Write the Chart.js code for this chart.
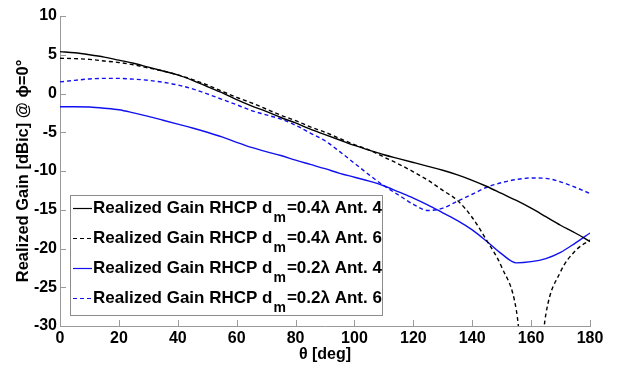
<!DOCTYPE html>
<html>
<head>
<meta charset="utf-8">
<script src="https://cdn.jsdelivr.net/npm/chart.js@4/dist/chart.umd.min.js"></script>
<style>
  body { margin: 0; background: #fff; }
  #wrap { width: 623px; height: 365px; }
</style>
</head>
<body>
<div id="wrap"><canvas id="gainChart"></canvas></div>
<script>
// theta in degrees, 5 degree steps
const theta = [0, 5, 10, 15, 20, 25, 30, 35, 40, 45, 50, 55, 60, 65, 70, 75, 80, 85, 90,
               95, 100, 105, 110, 115, 120, 125, 130, 135, 140, 145, 150, 155, 160, 165, 170, 175, 180];

// realized gain RHCP, dBic
const gainA4d04 = [5.4, 5.25, 5.0, 4.7, 4.3, 3.9, 3.4, 2.9, 2.4, 1.7, 0.9, 0.1, -0.8, -1.6, -2.3, -3.1, -3.8, -4.6, -5.3,
                   -6.0, -6.7, -7.3, -7.9, -8.4, -8.9, -9.4, -9.9, -10.5, -11.2, -12.0, -12.9, -13.8, -14.8, -15.9, -17.0, -18.0, -19.1];
const gainA6d04 = [4.55, 4.5, 4.4, 4.2, 4.0, 3.7, 3.3, 2.9, 2.4, 1.8, 1.1, 0.3, -0.5, -1.2, -2.0, -2.8, -3.5, -4.3, -5.0,
                   -5.8, -6.6, -7.3, -8.2, -9.1, -10.1, -11.2, -12.5, -13.8, -16.0, -19.0, -22.4, -28.0, -45, -28.5, -23.0, -20.3, -18.9];
const gainA4d02 = [-1.7, -1.7, -1.75, -1.9, -2.1, -2.5, -2.95, -3.45, -3.95, -4.45, -5.0, -5.6, -6.3, -6.95, -7.5, -8.0, -8.6, -9.15, -9.7,
                   -10.3, -10.8, -11.3, -11.9, -12.7, -13.5, -14.4, -15.4, -16.4, -17.6, -19.1, -20.7, -21.85, -21.7, -21.3, -20.5, -19.3, -18.0];
const gainA6d02 = [1.5, 1.7, 1.88, 1.95, 1.95, 1.85, 1.7, 1.45, 1.1, 0.6, -0.05, -0.75, -1.45, -2.2, -2.75, -3.3, -4.1, -5.1, -6.1,
                   -7.5, -9.0, -10.5, -11.9, -13.1, -14.3, -15.1, -14.8, -13.9, -13.0, -12.1, -11.5, -11.1, -10.9, -10.95, -11.4, -12.1, -12.9];

// legend text pieces: main, subscript, rest
const legendMain = 'Realized Gain RHCP d';
const legendSub = 'm';
const legendRest = ['=0.4\u03bb Ant. 4', '=0.4\u03bb Ant. 6', '=0.2\u03bb Ant. 4', '=0.2\u03bb Ant. 6'];

const yTitle = 'Realized Gain [dBic] @ \u03d5=0\u00b0';
const xTitle = '\u03b8 [deg]';

const FONT = '"Liberation Sans", Arial, sans-serif';

function toPoints(values) {
    return theta.map((t, i) => ({ x: t, y: values[i] }));
}

// small ticks pointing into the plot, like the original
const innerTicks = {
    id: 'innerTicks',
    beforeDatasetsDraw(chart) {
        const ctx = chart.ctx;
        const xs = chart.scales.x;
        const ys = chart.scales.y;
        ctx.save();
        ctx.strokeStyle = '#9a9a9a';
        ctx.lineWidth = 1;
        ctx.beginPath();
        xs.ticks.forEach(t => {
            const px = Math.round(xs.getPixelForValue(t.value)) + 0.5;
            ctx.moveTo(px, ys.bottom);
            ctx.lineTo(px, ys.bottom - 6);
        });
        ys.ticks.forEach(t => {
            const py = Math.round(ys.getPixelForValue(t.value)) + 0.5;
            ctx.moveTo(xs.left, py);
            ctx.lineTo(xs.left + 6, py);
        });
        ctx.stroke();
        ctx.restore();
    }
};

// legend with subscript, not possible with the built-in one
const subLegend = {
    id: 'subLegend',
    afterDraw(chart) {
        const ctx = chart.ctx;
        const boxX = 70.5, boxY = 195.5, boxW = 312, boxH = 120;
        ctx.save();
        ctx.fillStyle = '#fff';
        ctx.fillRect(boxX, boxY, boxW, boxH);
        ctx.strokeStyle = '#8c8c8c';
        ctx.lineWidth = 1;
        ctx.strokeRect(boxX, boxY, boxW, boxH);

        chart.data.datasets.forEach((ds, i) => {
            const y = 208 + i * 30;
            ctx.strokeStyle = ds.borderColor;
            ctx.lineWidth = 1.2;
            ctx.setLineDash(ds.borderDash || []);
            ctx.beginPath();
            ctx.moveTo(73, y + 0.5);
            ctx.lineTo(92, y + 0.5);
            ctx.stroke();
            ctx.setLineDash([]);

            ctx.fillStyle = '#000';
            ctx.textBaseline = 'middle';
            ctx.textAlign = 'left';
            ctx.font = 'bold 17px ' + FONT;
            let x = 93;
            ctx.fillText(legendMain, x, y);
            x += ctx.measureText(legendMain).width + 1;
            ctx.font = 'bold 14px ' + FONT;
            ctx.fillText(legendSub, x, y + 10);
            x += ctx.measureText(legendSub).width + 1;
            ctx.font = 'bold 17px ' + FONT;
            ctx.fillText(legendRest[i], x, y);
        });
        ctx.restore();
    }
};

const ctx = document.getElementById('gainChart').getContext('2d');
const gainChart = new Chart(ctx, {
    type: 'line',
    data: {
        datasets: [
            { label: legendMain + legendSub + legendRest[0], data: toPoints(gainA4d04), borderColor: '#000000', borderWidth: 1.4 },
            { label: legendMain + legendSub + legendRest[1], data: toPoints(gainA6d04), borderColor: '#000000', borderWidth: 1.4, borderDash: [4, 3] },
            { label: legendMain + legendSub + legendRest[2], data: toPoints(gainA4d02), borderColor: '#1010f0', borderWidth: 1.4 },
            { label: legendMain + legendSub + legendRest[3], data: toPoints(gainA6d02), borderColor: '#1010f0', borderWidth: 1.4, borderDash: [4, 3] }
        ]
    },
    options: {
        responsive: true,
        maintainAspectRatio: false,
        animation: false,
        layout: { padding: { top: 16, right: 33, left: 0, bottom: 0 } },
        elements: {
            point: { radius: 0 },
            line: { cubicInterpolationMode: 'monotone', fill: false }
        },
        plugins: {
            legend: { display: false },
            tooltip: { enabled: false }
        },
        scales: {
            x: {
                type: 'linear',
                min: 0,
                max: 180,
                ticks: { stepSize: 20, color: '#000', padding: 3, font: { family: FONT, size: 16, weight: 'bold' } },
                grid: { display: false, drawTicks: false, tickLength: 0 },
                border: { display: true, color: '#9a9a9a' },
                title: { display: true, text: xTitle, color: '#000', padding: { top: 0, bottom: 1 }, font: { family: FONT, size: 16, weight: 'bold' } },
                afterFit(scale) { scale.height = 39; }
            },
            y: {
                min: -30,
                max: 10,
                ticks: { stepSize: 5, color: '#000', padding: 3, font: { family: FONT, size: 16, weight: 'bold' } },
                grid: { display: false, drawTicks: false, tickLength: 0 },
                border: { display: true, color: '#9a9a9a' },
                title: { display: true, text: yTitle, color: '#000', padding: { top: 14, bottom: 0 }, font: { family: FONT, size: 16.5, weight: 'bold' } },
                afterFit(scale) { scale.width = 60; }
            }
        }
    },
    plugins: [innerTicks, subLegend]
});
</script>
</body>
</html>
